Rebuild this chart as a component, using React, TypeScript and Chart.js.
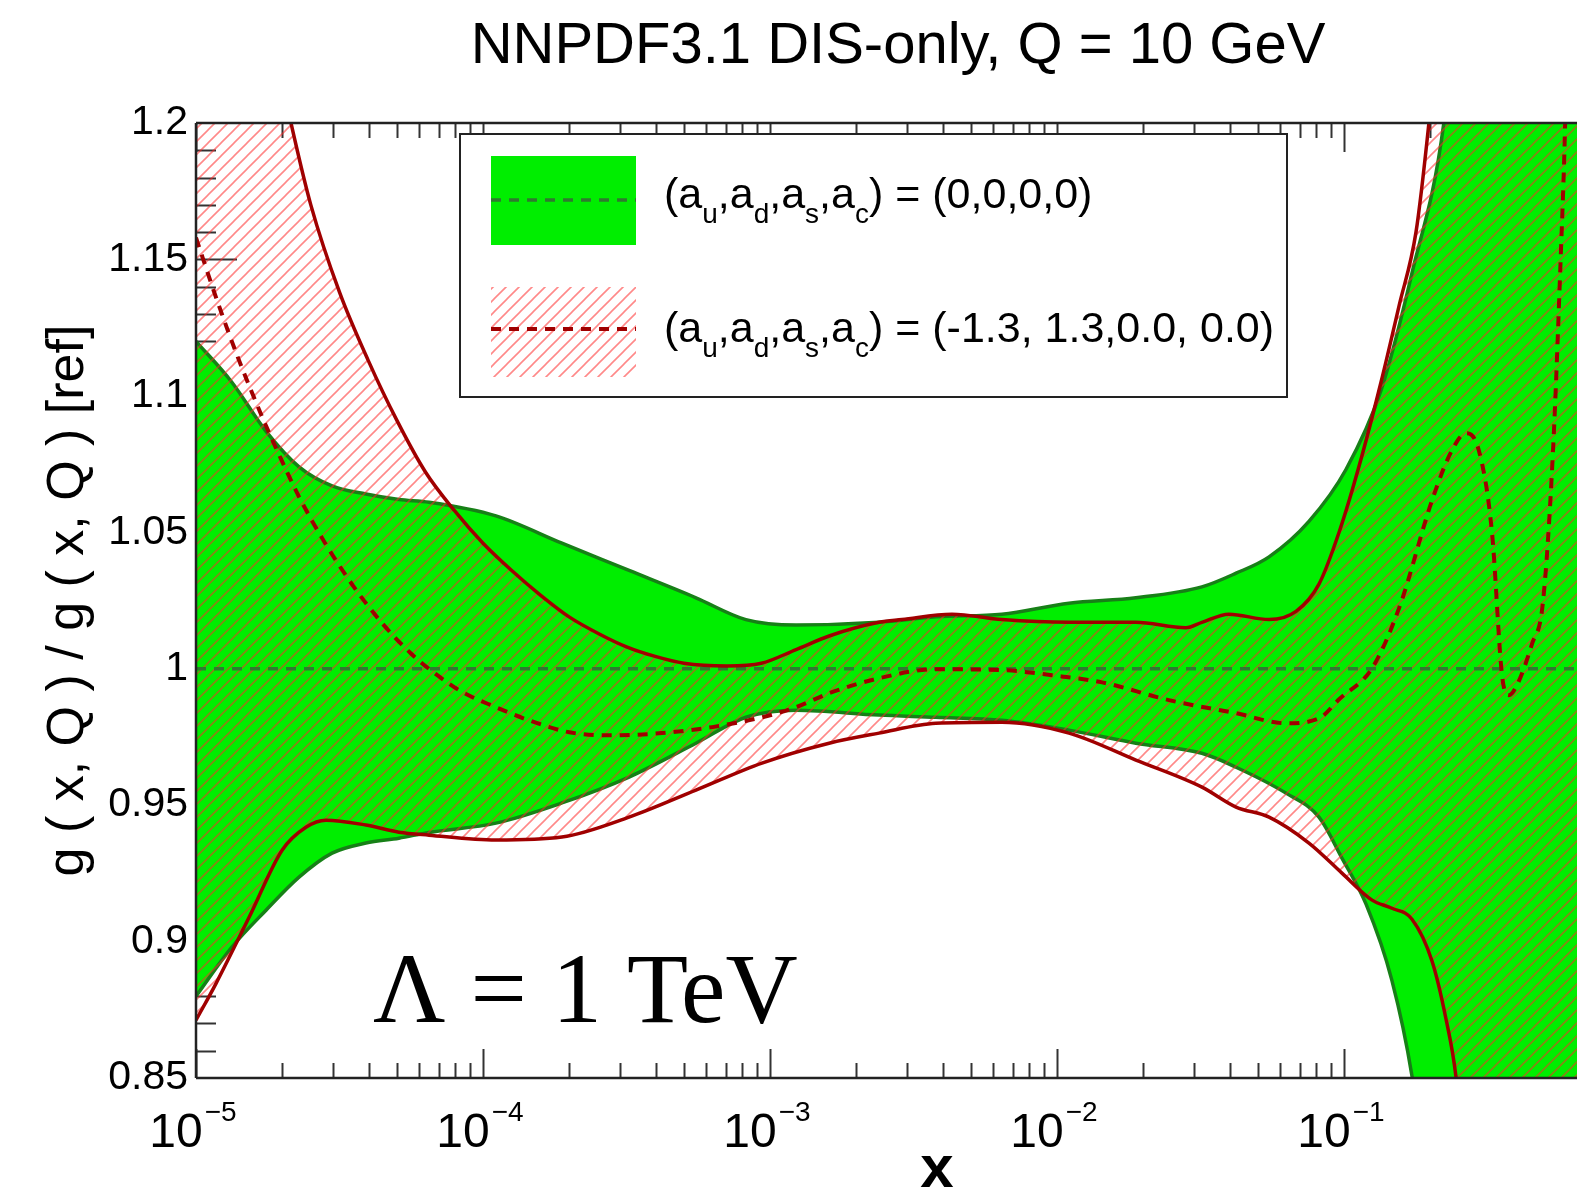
import { useEffect, useRef } from 'react';
import { Chart, registerables } from 'chart.js';

Chart.register(...registerables);

const SANS = '"Liberation Sans", Arial, Helvetica, sans-serif';
const SERIF = '"Liberation Serif", "Times New Roman", serif';

// ---------- chart text ----------
const TITLE = 'NNPDF3.1 DIS-only, Q = 10 GeV';
const Y_TITLE = 'g ( x, Q ) / g ( x, Q ) [ref]';
const X_TITLE = 'x';
const ANNOTATION = 'Λ = 1 TeV';
const LEGEND_VALUES = ['(0,0,0,0)', '(-1.3, 1.3,0.0, 0.0)'];

// ---------- axes ----------
const X_TICK_EXPONENTS = [-5, -4, -3, -2, -1];
const Y_TICK_VALUES = [0.85, 0.9, 0.95, 1, 1.05, 1.1, 1.15, 1.2];
const X_MIN_LOG = -5;
const X_MAX_LOG = -0.188;
const Y_MIN = 0.85;
const Y_MAX = 1.2;

// ---------- data (log10 x, value) ----------
// Green band (a = 0,0,0,0): upper / lower edges
const GREEN_UP_LOGX = [-5.0, -4.875, -4.756, -4.641, -4.526, -4.408, -4.293, -4.188, -3.955, -3.725, -3.491, -3.258, -3.084, -2.909, -2.62, -2.422, -2.192, -1.958, -1.725, -1.495, -1.376, -1.261, -1.122, -0.993, -0.871, -0.763, -0.652, -0.56, -0.188];
const GREEN_UP = [1.120, 1.105, 1.087, 1.074, 1.067, 1.064, 1.062, 1.061, 1.056, 1.046, 1.036, 1.026, 1.018, 1.016, 1.017, 1.019, 1.020, 1.024, 1.026, 1.030, 1.035, 1.041, 1.054, 1.073, 1.102, 1.145, 1.200, 1.300, 1.500];

const GREEN_LO_LOGX = [-5.0, -4.875, -4.756, -4.641, -4.526, -4.408, -4.293, -4.188, -3.955, -3.725, -3.491, -3.258, -3.084, -2.909, -2.62, -2.422, -2.192, -1.958, -1.725, -1.495, -1.376, -1.202, -1.087, -1.007, -0.923, -0.833, -0.763, -0.7, -0.188];
const GREEN_LO = [0.880, 0.898, 0.9115, 0.9236, 0.9324, 0.9361, 0.9379, 0.940, 0.9434, 0.9508, 0.9603, 0.9727, 0.9822, 0.9848, 0.983, 0.9822, 0.9811, 0.9775, 0.9727, 0.969, 0.9639, 0.9544, 0.9456, 0.9306, 0.9137, 0.8858, 0.8507, 0.80, 0.70];

// Reference central value
const REF_LOGX = [-5.0, -0.188];
const REF = [1.0, 1.0];

// Red band (a = -1.3, 1.3, 0, 0): upper / lower edges and central value
const RED_UP_LOGX = [-5.0, -4.85, -4.75, -4.669, -4.6, -4.5, -4.4, -4.3, -4.2, -4.1, -4.0, -3.9, -3.8, -3.7, -3.6, -3.5, -3.4, -3.3, -3.15, -3.03, -2.909, -2.794, -2.62, -2.54, -2.366, -2.192, -1.958, -1.725, -1.551, -1.495, -1.401, -1.261, -1.167, -1.087, -1.017, -0.948, -0.871, -0.808, -0.749, -0.704, -0.65, -0.188];
const RED_UP = [1.40, 1.30, 1.24, 1.200, 1.170, 1.138, 1.113, 1.091, 1.072, 1.058, 1.046, 1.036, 1.027, 1.019, 1.013, 1.008, 1.0045, 1.002, 1.001, 1.002, 1.007, 1.012, 1.017, 1.018, 1.020, 1.018, 1.017, 1.017, 1.015, 1.017, 1.020, 1.018, 1.021, 1.031, 1.050, 1.074, 1.105, 1.133, 1.160, 1.200, 1.26, 1.60];

const RED_LO_LOGX = [-5.0, -4.93, -4.815, -4.7, -4.617, -4.547, -4.408, -4.293, -4.188, -3.955, -3.725, -3.491, -3.258, -3.028, -2.794, -2.62, -2.422, -2.192, -1.958, -1.725, -1.495, -1.376, -1.261, -1.122, -1.007, -0.902, -0.833, -0.763, -0.693, -0.645, -0.61, -0.55, -0.188];
const RED_LO = [0.8712, 0.8847, 0.9089, 0.9335, 0.9419, 0.9445, 0.9427, 0.9401, 0.939, 0.9372, 0.9383, 0.9456, 0.9555, 0.9654, 0.9727, 0.9764, 0.980, 0.9804, 0.9764, 0.9665, 0.9566, 0.9493, 0.9456, 0.9361, 0.9251, 0.9152, 0.9122, 0.9082, 0.8928, 0.8719, 0.8507, 0.78, 0.60];

const RED_MID_LOGX = [-5.0, -4.93, -4.85, -4.756, -4.7, -4.641, -4.55, -4.45, -4.35, -4.25, -4.164, -4.073, -3.955, -3.84, -3.7, -3.551, -3.376, -3.202, -3.028, -2.909, -2.794, -2.62, -2.422, -2.192, -2.017, -1.843, -1.61, -1.376, -1.202, -1.087, -1.017, -0.902, -0.808, -0.693, -0.624, -0.575, -0.53, -0.484, -0.449, -0.425, -0.397, -0.345, -0.307, -0.272, -0.244, -0.23, -0.22];
const RED_MID = [1.158, 1.136, 1.113, 1.089, 1.076, 1.063, 1.046, 1.030, 1.0165, 1.0055, 0.998, 0.9915, 0.9859, 0.9811, 0.9767, 0.9756, 0.9764, 0.9786, 0.9822, 0.9859, 0.991, 0.9965, 0.9998, 0.9995, 0.9976, 0.995, 0.9885, 0.9837, 0.980, 0.9818, 0.9888, 1.0002, 1.0222, 1.0617, 1.080, 1.0863, 1.080, 1.0497, 0.9974, 0.9903, 0.994, 1.009, 1.024, 1.079, 1.153, 1.197, 1.25];

// ---------- styles ----------
const GREEN_FILL = '#00ee00';
const GREEN_EDGE = '#178017';
const GREEN_DASH = '#2f7a2f';
const RED_LINE = '#a00000';
const HATCH_COLOR = 'rgba(255,40,40,0.55)';

const pts = (lx: number[], v: number[]) => lx.map((l, i) => ({ x: Math.pow(10, l), y: v[i] }));

function seg(ctx: CanvasRenderingContext2D, x1: number, y1: number, x2: number, y2: number) {
  ctx.beginPath();
  ctx.moveTo(x1, y1);
  ctx.lineTo(x2, y2);
  ctx.stroke();
}

function drawLegendText(ctx: CanvasRenderingContext2D, x: number, y: number, value: string) {
  const parts: [string, boolean][] = [
    ['(a', false], ['u', true], [',a', false], ['d', true], [',a', false], ['s', true], [',a', false], ['c', true],
    [') = ' + value, false],
  ];
  let cx = x;
  ctx.fillStyle = '#000';
  ctx.textAlign = 'left';
  ctx.textBaseline = 'alphabetic';
  for (const [t, sub] of parts) {
    ctx.font = sub ? `28px ${SANS}` : `43px ${SANS}`;
    ctx.fillText(t, cx, sub ? y + 15 : y);
    cx += ctx.measureText(t).width;
  }
}

export default function App() {
  const canvasRef = useRef<HTMLCanvasElement | null>(null);

  useEffect(() => {
    const canvas = canvasRef.current;
    if (!canvas) return;
    const mainCtx = canvas.getContext('2d')!;

    const tile = document.createElement('canvas');
    const s = 13;
    tile.width = s;
    tile.height = s;
    const tg = tile.getContext('2d')!;
    tg.strokeStyle = HATCH_COLOR;
    tg.lineWidth = 1.6;
    tg.beginPath();
    tg.moveTo(-2, 2); tg.lineTo(2, -2);
    tg.moveTo(0, s); tg.lineTo(s, 0);
    tg.moveTo(s - 2, s + 2); tg.lineTo(s + 2, s - 2);
    tg.stroke();
    const hatch = mainCtx.createPattern(tile, 'repeat') || 'rgba(255,0,0,0.2)';

    const decor = {
      id: 'decor',
      beforeDatasetsDraw(chart: any) {
        const ctx: CanvasRenderingContext2D = chart.ctx;
        const xs = chart.scales.x;
        const ys = chart.scales.y;
        const { left, top, bottom } = chart.chartArea;
        ctx.save();
        ctx.strokeStyle = '#333';
        ctx.lineWidth = 2;
        for (const d of X_TICK_EXPONENTS) {
          for (let k = 1; k <= 9; k++) {
            const v = k * Math.pow(10, d);
            if (v > xs.max) break;
            const px = Math.round(xs.getPixelForValue(v)) + 0.5;
            const len = k === 1 ? 29 : 15;
            seg(ctx, px, bottom, px, bottom - len);
            seg(ctx, px, top, px, top + len);
          }
        }
        for (let i = Math.round(Y_MIN * 100) + 1; i < Math.round(Y_MAX * 100); i++) {
          const py = Math.round(ys.getPixelForValue(i / 100)) + 0.5;
          const len = i % 5 === 0 ? 41 : 20;
          seg(ctx, left, py, left + len, py);
        }
        ctx.restore();
      },
      afterDatasetsDraw(chart: any) {
        const ctx: CanvasRenderingContext2D = chart.ctx;
        const xs = chart.scales.x;
        const { left, right, top, bottom } = chart.chartArea;
        ctx.save();
        // frame
        ctx.strokeStyle = '#222';
        ctx.lineWidth = 2.5;
        seg(ctx, left, top, right, top);
        seg(ctx, left, bottom, right, bottom);
        seg(ctx, left, top, left, bottom);

        // x tick labels 10^n
        ctx.fillStyle = '#000';
        ctx.textBaseline = 'alphabetic';
        ctx.textAlign = 'left';
        for (const e of X_TICK_EXPONENTS) {
          const px = xs.getPixelForValue(Math.pow(10, e));
          ctx.font = `48px ${SANS}`;
          const w1 = ctx.measureText('10').width;
          const sup = '\u2212' + Math.abs(e);
          ctx.font = `28px ${SANS}`;
          const w2 = ctx.measureText(sup).width;
          const x0 = px - (w1 + 2 + w2) / 2 - 3;
          ctx.font = `48px ${SANS}`;
          ctx.fillText('10', x0, 1147);
          ctx.font = `28px ${SANS}`;
          ctx.fillText(sup, x0 + w1 + 2, 1121);
        }
        // x title
        ctx.font = `bold 60px ${SANS}`;
        ctx.textAlign = 'center';
        ctx.fillText(X_TITLE, 937, 1187);
        // title
        ctx.font = `58px ${SANS}`;
        ctx.fillText(TITLE, 898, 63);
        // annotation
        ctx.font = `100px ${SERIF}`;
        ctx.textAlign = 'left';
        ctx.fillText(ANNOTATION, 373, 1022);

        // legend
        ctx.fillStyle = '#fff';
        ctx.fillRect(460, 134, 827, 263);
        ctx.strokeStyle = '#222';
        ctx.lineWidth = 2;
        ctx.strokeRect(460, 134, 827, 263);
        // entry 1
        ctx.fillStyle = GREEN_FILL;
        ctx.fillRect(491, 156, 145, 89);
        ctx.strokeStyle = GREEN_DASH;
        ctx.lineWidth = 3.5;
        ctx.setLineDash([10, 8]);
        seg(ctx, 491, 200, 636, 200);
        ctx.setLineDash([]);
        drawLegendText(ctx, 664, 208, LEGEND_VALUES[0]);
        // entry 2
        ctx.fillStyle = hatch as any;
        ctx.fillRect(491, 287, 145, 90);
        ctx.strokeStyle = RED_LINE;
        ctx.lineWidth = 4;
        ctx.setLineDash([10, 8]);
        seg(ctx, 491, 329, 636, 329);
        ctx.setLineDash([]);
        drawLegendText(ctx, 664, 342, LEGEND_VALUES[1]);
        ctx.restore();
      },
    };

    const chart = new Chart(canvas, {
      type: 'line',
      data: {
        datasets: [
          {
            label: 'red central',
            data: pts(RED_MID_LOGX, RED_MID),
            borderColor: RED_LINE,
            borderWidth: 4,
            borderDash: [10, 8],
            pointRadius: 0,
            cubicInterpolationMode: 'monotone',
            fill: false,
            order: 0,
          },
          {
            label: 'red upper',
            data: pts(RED_UP_LOGX, RED_UP),
            borderColor: RED_LINE,
            borderWidth: 3.5,
            pointRadius: 0,
            cubicInterpolationMode: 'monotone',
            fill: false,
            order: 1,
          },
          {
            label: 'reference',
            data: pts(REF_LOGX, REF),
            borderColor: GREEN_DASH,
            borderWidth: 3.5,
            borderDash: [10, 8],
            pointRadius: 0,
            fill: false,
            order: 2,
          },
          {
            label: 'red lower',
            data: pts(RED_LO_LOGX, RED_LO),
            borderColor: RED_LINE,
            borderWidth: 3.5,
            backgroundColor: hatch as any,
            pointRadius: 0,
            cubicInterpolationMode: 'monotone',
            fill: 1,
            order: 3,
          },
          {
            label: 'green upper',
            data: pts(GREEN_UP_LOGX, GREEN_UP),
            borderColor: GREEN_EDGE,
            borderWidth: 3.5,
            pointRadius: 0,
            cubicInterpolationMode: 'monotone',
            fill: false,
            order: 4,
          },
          {
            label: 'green lower',
            data: pts(GREEN_LO_LOGX, GREEN_LO),
            borderColor: GREEN_EDGE,
            borderWidth: 3.5,
            backgroundColor: GREEN_FILL,
            pointRadius: 0,
            cubicInterpolationMode: 'monotone',
            fill: 4,
            order: 5,
          },
        ],
      },
      options: {
        responsive: false,
        animation: false,
        events: [],
        layout: { padding: { top: 123, bottom: 117, left: 0, right: 0 } },
        plugins: {
          legend: { display: false },
          tooltip: { enabled: false },
          title: { display: false },
        },
        scales: {
          x: {
            type: 'logarithmic',
            display: false,
            min: Math.pow(10, X_MIN_LOG),
            max: Math.pow(10, X_MAX_LOG),
          },
          y: {
            type: 'linear',
            position: 'left',
            min: Y_MIN,
            max: Y_MAX,
            grid: { display: false, drawTicks: false },
            border: { display: false },
            afterBuildTicks: (scale: any) => {
              scale.ticks = Y_TICK_VALUES.map((v) => ({ value: v }));
            },
            afterFit: (scale: any) => {
              scale.width = 196;
            },
            ticks: {
              padding: 8,
              color: '#000',
              font: { size: 41, family: SANS },
              callback: (v: any) => String(+Number(v).toFixed(2)),
            },
            title: {
              display: true,
              text: Y_TITLE,
              color: '#000',
              font: { size: 52, family: SANS, lineHeight: 1.2 },
              padding: { top: 37, bottom: 0 },
            },
          },
        },
      } as any,
      plugins: [decor],
    });

    return () => chart.destroy();
  }, []);

  return (
    <div style={{ position: 'absolute', left: 0, top: 0, width: 1577, height: 1195, background: '#fff' }}>
      <canvas ref={canvasRef} width={1577} height={1195} style={{ display: 'block' }} />
    </div>
  );
}
